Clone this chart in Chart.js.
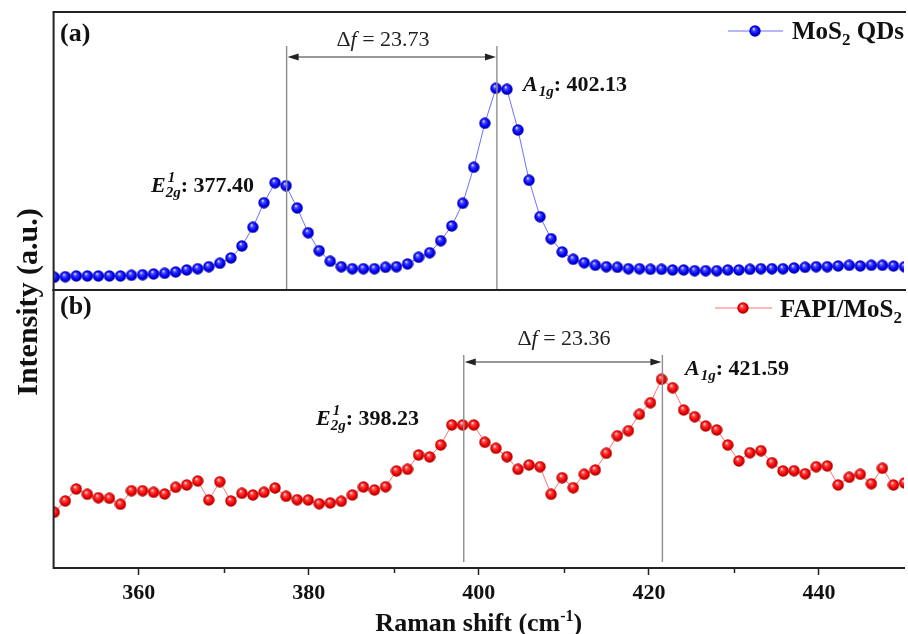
<!DOCTYPE html>
<html>
<head>
<meta charset="utf-8">
<title>Raman spectra of MoS2 QDs and FAPI/MoS2</title>
<script src="https://cdn.jsdelivr.net/npm/chart.js@4.4.1/dist/chart.umd.min.js"></script>
<style>
  html, body { margin: 0; padding: 0; background: #fff; overflow: hidden; }
  #wrap { position: relative; width: 908px; height: 634px; overflow: hidden; background: #fff; }
  #wrap canvas { position: absolute; left: 0; top: 0; }
</style>
</head>
<body>
<div id="wrap">
  <canvas id="panelA" width="911" height="640"></canvas>
  <canvas id="panelB" width="911" height="640"></canvas>
</div>
<script>
// Raman shift (cm^-1) of each recorded channel
const ramanShift = [
  350.07, 351.37, 352.67, 353.97, 355.26, 356.56, 357.86, 359.16, 360.46, 361.76,
  363.06, 364.35, 365.65, 366.95, 368.25, 369.55, 370.85, 372.14, 373.44, 374.74,
  376.04, 377.34, 378.64, 379.94, 381.23, 382.53, 383.83, 385.13, 386.43, 387.73,
  389.03, 390.32, 391.62, 392.92, 394.22, 395.52, 396.82, 398.11, 399.41, 400.71,
  402.01, 403.31, 404.61, 405.91, 407.20, 408.50, 409.80, 411.10, 412.40, 413.70,
  415.00, 416.29, 417.59, 418.89, 420.19, 421.49, 422.79, 424.09, 425.38, 426.68,
  427.98, 429.28, 430.58, 431.88, 433.17, 434.47, 435.77, 437.07, 438.37, 439.67,
  440.97, 442.26, 443.56, 444.86, 446.16, 447.46, 448.76, 450.06
];

// (a) MoS2 QDs intensity (a.u.)
const mos2QDs = [
  12.7, 13.3, 14.0, 14.0, 14.0, 14.0, 14.0, 14.7, 15.3, 16.0,
  16.7, 18.0, 20.0, 21.3, 23.3, 26.7, 32.0, 44.0, 62.7, 87.3,
  107.3, 104.3, 82.0, 57.3, 39.3, 28.7, 23.3, 21.3, 21.3, 21.3,
  22.7, 23.3, 26.0, 32.7, 37.3, 49.3, 64.0, 86.7, 122.7, 166.7,
  201.7, 200.7, 160.0, 109.7, 73.3, 51.3, 38.0, 30.7, 27.3, 24.7,
  23.3, 22.7, 21.3, 21.3, 20.7, 20.7, 20.0, 20.0, 19.3, 19.3,
  19.3, 20.0, 20.0, 20.7, 21.3, 21.3, 21.3, 22.0, 22.7, 23.3,
  23.3, 24.0, 24.7, 24.0, 24.7, 24.7, 24.0, 23.3
];

// (b) FAPI/MoS2 intensity (a.u.)
const fapiMoS2 = [
  55.7, 67.0, 79.0, 73.7, 70.3, 69.7, 63.7, 77.3, 77.3, 75.7,
  74.0, 80.7, 83.0, 87.0, 68.0, 86.3, 67.0, 74.7, 73.0, 75.7,
  80.0, 71.7, 68.3, 68.0, 64.3, 65.0, 66.7, 73.0, 81.0, 78.0,
  81.3, 97.0, 98.7, 113.0, 111.0, 123.0, 143.0, 143.0, 143.0, 125.7,
  119.7, 111.3, 98.7, 103.0, 101.3, 73.7, 90.3, 80.3, 93.7, 98.0,
  114.7, 132.3, 137.3, 153.7, 165.3, 188.7, 180.3, 158.0, 151.3, 142.0,
  138.0, 123.0, 107.0, 115.3, 117.3, 105.3, 97.0, 97.3, 94.3, 101.3,
  102.0, 83.0, 90.7, 93.7, 84.3, 99.7, 83.0, 85.0
];

// Labelled x ticks and peak positions: index 0 = (a), index 1 = (b)
const tickLabels = [360, 380, 400, 420, 440];
const minorTicks = [370, 390, 410, 430];
const peakE2g = [377.40, 398.23];
const peakA1g = [402.13, 421.59];
const peakDelta = ['23.73', '23.36'];
const seriesNames = ['MoS2 QDs', 'FAPI/MoS2'];

const SERIF = '"Liberation Serif", "Times New Roman", Times, serif';
const FRAME = '#222';

function fontOf(size, bold, italic) {
  return (italic ? 'italic ' : '') + (bold ? 'bold ' : '') + size + 'px ' + SERIF;
}

// Shaded sphere used as the point marker
function makeBall(hi, mid, base, edge) {
  const cv = document.createElement('canvas');
  cv.width = 12; cv.height = 12;
  const g = cv.getContext('2d');
  const grad = g.createRadialGradient(4.6, 3.8, 0.2, 6, 6, 5.8);
  grad.addColorStop(0, hi);
  grad.addColorStop(0.25, mid);
  grad.addColorStop(0.68, base);
  grad.addColorStop(1, edge);
  g.fillStyle = grad;
  g.beginPath();
  g.arc(6, 6, 5.7, 0, Math.PI * 2);
  g.fill();
  return cv;
}
const blueBall = makeBall('#f2f2ff', '#4a4aff', '#0000f2', '#0000a0');
const redBall = makeBall('#fff0f0', '#ff4a4a', '#ef0000', '#a00000');

// Text made of runs with their own size / style / baseline shift
function richWidth(ctx, parts) {
  let w = 0;
  for (const p of parts) {
    ctx.font = fontOf(p.s, p.b, p.i);
    if (!p.hold) w += ctx.measureText(p.t).width + (p.dx || 0);
  }
  return w;
}
function drawRich(ctx, x, y, parts, align) {
  const w = richWidth(ctx, parts);
  let cx = align === 'center' ? x - w / 2 : align === 'right' ? x - w : x;
  ctx.textBaseline = 'alphabetic';
  ctx.textAlign = 'left';
  for (const p of parts) {
    ctx.font = fontOf(p.s, p.b, p.i);
    ctx.fillText(p.t, cx + (p.dx || 0), y + (p.dy || 0));
    if (!p.hold) cx += ctx.measureText(p.t).width + (p.dx || 0);
  }
}
function e2gParts(v) {
  return [
    { t: 'E', s: 22, b: 1, i: 1 },
    { t: '1', s: 15, b: 1, i: 1, dy: -10, dx: 2, hold: 1 },
    { t: '2g', s: 15, b: 1, i: 1, dy: 5 },
    { t: ': ' + v.toFixed(2), s: 22, b: 1 }
  ];
}
function a1gParts(v) {
  return [
    { t: 'A', s: 22, b: 1, i: 1 },
    { t: '1g', s: 15, b: 1, i: 1, dy: 5, dx: 1 },
    { t: ': ' + v.toFixed(2), s: 22, b: 1 }
  ];
}
function deltaParts(d) {
  return [
    { t: '\u0394', s: 22 },
    { t: 'f', s: 22, i: 1 },
    { t: ' = ' + d, s: 22 }
  ];
}
function nameParts(name) {
  const k = name.indexOf('2');
  return [
    { t: name.slice(0, k), s: 25, b: 1 },
    { t: '2', s: 17, b: 1, dy: 6 },
    { t: name.slice(k + 1), s: 25, b: 1 }
  ];
}

function seg(ctx, x1, y1, x2, y2) {
  ctx.beginPath(); ctx.moveTo(x1, y1); ctx.lineTo(x2, y2); ctx.stroke();
}
function doubleArrow(ctx, x1, x2, y) {
  ctx.strokeStyle = '#333'; ctx.fillStyle = '#222'; ctx.lineWidth = 1;
  seg(ctx, x1 + 4, y, x2 - 4, y);
  ctx.beginPath();
  ctx.moveTo(x1 + 1, y); ctx.lineTo(x1 + 12, y - 3.5); ctx.lineTo(x1 + 12, y + 3.5); ctx.closePath(); ctx.fill();
  ctx.beginPath();
  ctx.moveTo(x2 - 1, y); ctx.lineTo(x2 - 12, y - 3.5); ctx.lineTo(x2 - 12, y + 3.5); ctx.closePath(); ctx.fill();
}
function legendEntry(ctx, x1, x2, xm, y, color, ball, name, tx, ty) {
  ctx.strokeStyle = color; ctx.lineWidth = 1;
  seg(ctx, x1, y, x2, y);
  ctx.drawImage(ball, xm - 6, y - 6);
  ctx.fillStyle = '#111';
  drawRich(ctx, tx, ty, nameParts(name), 'left');
}

// Panel (a): frame, peak markers, labels and legend
const decoA = {
  id: 'decoA',
  afterDraw(chart) {
    const { ctx, chartArea: a, scales: { x } } = chart;
    ctx.save();
    ctx.strokeStyle = FRAME; ctx.lineWidth = 2;
    seg(ctx, a.left - 1, a.top, a.right + 2, a.top);
    seg(ctx, a.left, a.top, a.left, a.bottom);
    seg(ctx, a.left - 1, a.bottom, a.right + 2, a.bottom);

    const xe = x.getPixelForValue(peakE2g[0]);
    const xa = x.getPixelForValue(peakA1g[0]);
    ctx.strokeStyle = '#8e8e8e'; ctx.lineWidth = 1.4;
    seg(ctx, xe, 46, xe, a.bottom - 1);
    seg(ctx, xa, 46, xa, a.bottom - 1);
    doubleArrow(ctx, xe, xa, 57);

    ctx.fillStyle = '#222';
    drawRich(ctx, 383, 46, deltaParts(peakDelta[0]), 'center');
    ctx.fillStyle = '#111';
    drawRich(ctx, 254, 192, e2gParts(peakE2g[0]), 'right');
    drawRich(ctx, 523, 91, a1gParts(peakA1g[0]), 'left');

    ctx.font = fontOf(26, 1, 0);
    ctx.textAlign = 'left'; ctx.textBaseline = 'alphabetic';
    ctx.fillText('(a)', 60, 41);

    legendEntry(ctx, 728, 783, 755, 31, '#6f6fff', blueBall, seriesNames[0], 792, 39);
    ctx.restore();
  }
};

// Panel (b): frame, minor ticks, peak markers, labels, legend and axis titles
const decoB = {
  id: 'decoB',
  afterDraw(chart) {
    const { ctx, chartArea: a, scales: { x } } = chart;
    ctx.save();
    ctx.strokeStyle = FRAME; ctx.lineWidth = 2;
    seg(ctx, a.left - 1, a.top, a.right + 2, a.top);
    seg(ctx, a.left, a.top, a.left, a.bottom + 1);
    ctx.lineWidth = 1.5;
    for (const v of minorTicks) {
      const px = Math.round(x.getPixelForValue(v)) + 0.5;
      seg(ctx, px, a.bottom, px, a.bottom + 5);
    }

    const xe = x.getPixelForValue(peakE2g[1]);
    const xa = x.getPixelForValue(peakA1g[1]);
    ctx.strokeStyle = '#8e8e8e'; ctx.lineWidth = 1.4;
    seg(ctx, xe, 355, xe, 562);
    seg(ctx, xa, 355, xa, 562);
    doubleArrow(ctx, xe, xa, 362);

    ctx.fillStyle = '#222';
    drawRich(ctx, 564, 345, deltaParts(peakDelta[1]), 'center');
    ctx.fillStyle = '#111';
    drawRich(ctx, 316, 425, e2gParts(peakE2g[1]), 'left');
    drawRich(ctx, 685, 375, a1gParts(peakA1g[1]), 'left');

    ctx.font = fontOf(26, 1, 0);
    ctx.textAlign = 'left'; ctx.textBaseline = 'alphabetic';
    ctx.fillText('(b)', 60, 314);

    legendEntry(ctx, 715, 772, 743, 308, '#ff7272', redBall, seriesNames[1], 780, 317);

    // axis titles
    ctx.fillStyle = '#111';
    drawRich(ctx, (a.left + a.right) / 2, 631, [
      { t: 'Raman shift (cm', s: 26, b: 1 },
      { t: '-1', s: 16, b: 1, dy: -10 },
      { t: ')', s: 26, b: 1 }
    ], 'center');
    ctx.translate(29, 302);
    ctx.rotate(-Math.PI / 2);
    ctx.font = fontOf(30, 1, 0);
    ctx.textAlign = 'center'; ctx.textBaseline = 'middle';
    ctx.fillText('Intensity (a.u.)', 0, 0);
    ctx.restore();
  }
};

function points(ys) {
  return ramanShift.map((x, i) => ({ x: x, y: ys[i] }));
}

const common = {
  responsive: false,
  animation: false,
  devicePixelRatio: 1,
  events: [],
  plugins: { legend: { display: false }, tooltip: { enabled: false } }
};

new Chart(document.getElementById('panelA'), {
  type: 'line',
  data: {
    datasets: [{
      label: seriesNames[0],
      data: points(mos2QDs),
      borderColor: '#6f6fff',
      borderWidth: 1,
      pointStyle: blueBall,
      pointRadius: 6,
      tension: 0
    }]
  },
  options: Object.assign({}, common, {
    layout: { padding: { left: 53.6, top: 12, right: 1, bottom: 350 } },
    scales: {
      x: { type: 'linear', min: 350, max: 450, display: false },
      y: { type: 'linear', min: 0, max: 278, display: false }
    }
  }),
  plugins: [decoA]
});

new Chart(document.getElementById('panelB'), {
  type: 'line',
  data: {
    datasets: [{
      label: seriesNames[1],
      data: points(fapiMoS2),
      borderColor: '#ff7272',
      borderWidth: 1,
      pointStyle: redBall,
      pointRadius: 6,
      tension: 0
    }]
  },
  options: Object.assign({}, common, {
    layout: { padding: { left: 53.6, top: 290, right: 1, bottom: 0 } },
    scales: {
      x: {
        type: 'linear', min: 350, max: 450,
        afterFit: (scale) => { scale.height = 72; },
        border: { display: true, color: FRAME, width: 2 },
        grid: {
          drawOnChartArea: false,
          drawTicks: true,
          tickLength: 7,
          tickWidth: 1.5,
          tickColor: (c) => (c.tick && tickLabels.includes(c.tick.value)) ? FRAME : 'rgba(0,0,0,0)'
        },
        ticks: {
          stepSize: 10,
          autoSkip: false,
          maxRotation: 0,
          padding: 5,
          color: '#111',
          font: { family: SERIF, size: 22, weight: 'bold' },
          callback: (v) => tickLabels.includes(v) ? String(v) : ''
        }
      },
      y: { type: 'linear', min: 0, max: 278, display: false }
    }
  }),
  plugins: [decoB]
});
</script>
</body>
</html>
